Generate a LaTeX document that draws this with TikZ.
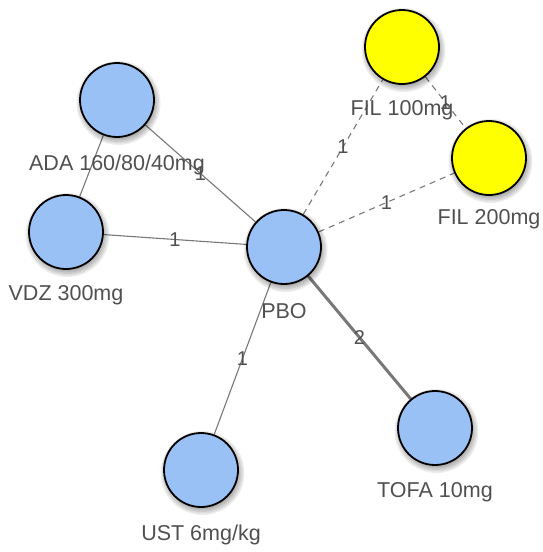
\documentclass[tikz,border=0pt]{standalone}
\usepackage{fontspec}
\setmainfont{Liberation Sans}
\usetikzlibrary{backgrounds}
\definecolor{nodeblue}{RGB}{153,193,246}
\definecolor{nodeyellow}{RGB}{255,255,0}
\definecolor{edgegrey}{RGB}{120,120,120}
\definecolor{textgrey}{RGB}{80,80,80}
\tikzset{
  trt/.style={circle, draw=black, line width=1.8pt, minimum size=74pt, inner sep=0pt},
  bluetrt/.style={trt, fill=nodeblue},
  yellowtrt/.style={trt, fill=nodeyellow},
  lbl/.style={text=textgrey, font=\fontsize{21.5}{23}\selectfont, inner sep=0pt},
  edge/.style={draw=edgegrey, line width=1.1pt},
  dashedge/.style={edge, dashed, dash pattern=on 6pt off 5pt},
  thickedge/.style={draw=edgegrey, line width=3pt},
  elbl/.style={text=textgrey, font=\fontsize{20}{22}\selectfont, inner sep=0pt}
}
\begin{document}
\begin{tikzpicture}[x=1pt, y=-1pt]
\useasboundingbox (0,0) rectangle (542,552);
% soft shadows under the treatment circles
\foreach \cx/\cy in {117/100, 66/232, 284/247, 402/47, 489/158, 435/428, 201/470}
  \foreach \r in {36,37.5,39,40.5,42}
    \fill[black, opacity=0.07] (\cx+1.5,\cy+3) circle[radius=\r];
% treatments
\node[bluetrt] (ADA) at (117,100) {};
\node[bluetrt] (VDZ) at (66,232) {};
\node[bluetrt] (PBO) at (284,247) {};
\node[yellowtrt] (F100) at (402,47) {};
\node[yellowtrt] (F200) at (489,158) {};
\node[bluetrt] (TOFA) at (435,428) {};
\node[bluetrt] (UST) at (201,470) {};
% connectors, behind the treatments
\begin{scope}[on background layer]
\draw[edge] (ADA) -- (VDZ);
\draw[edge] (ADA) -- node[elbl]{1} (PBO);
\draw[edge] (VDZ) -- node[elbl]{1} (PBO);
\draw[dashedge] (PBO) -- node[elbl]{1} (F100);
\draw[dashedge] (PBO) -- node[elbl]{1} (F200);
\draw[dashedge] (F100) -- node[elbl]{1} (F200);
\draw[thickedge] (PBO) -- node[elbl]{2} (TOFA);
\draw[edge] (PBO) -- node[elbl]{1} (UST);
\end{scope}
% treatment labels
\node[lbl] (lADA) at ([yshift=-65pt]ADA.center) {ADA 160/80/40mg};
\node[lbl] (lVDZ) at ([yshift=-63pt]VDZ.center) {VDZ 300mg};
\node[lbl] (lPBO) at ([yshift=-64pt]PBO.center) {PBO};
\node[lbl] (lF100) at ([yshift=-63pt]F100.center) {FIL 100mg};
\node[lbl] (lF200) at ([yshift=-61pt]F200.center) {FIL 200mg};
\node[lbl] (lTOFA) at ([yshift=-64pt]TOFA.center) {TOFA 10mg};
\node[lbl] (lUST) at ([yshift=-65pt]UST.center) {UST 6mg/kg};
\end{tikzpicture}
\end{document}
